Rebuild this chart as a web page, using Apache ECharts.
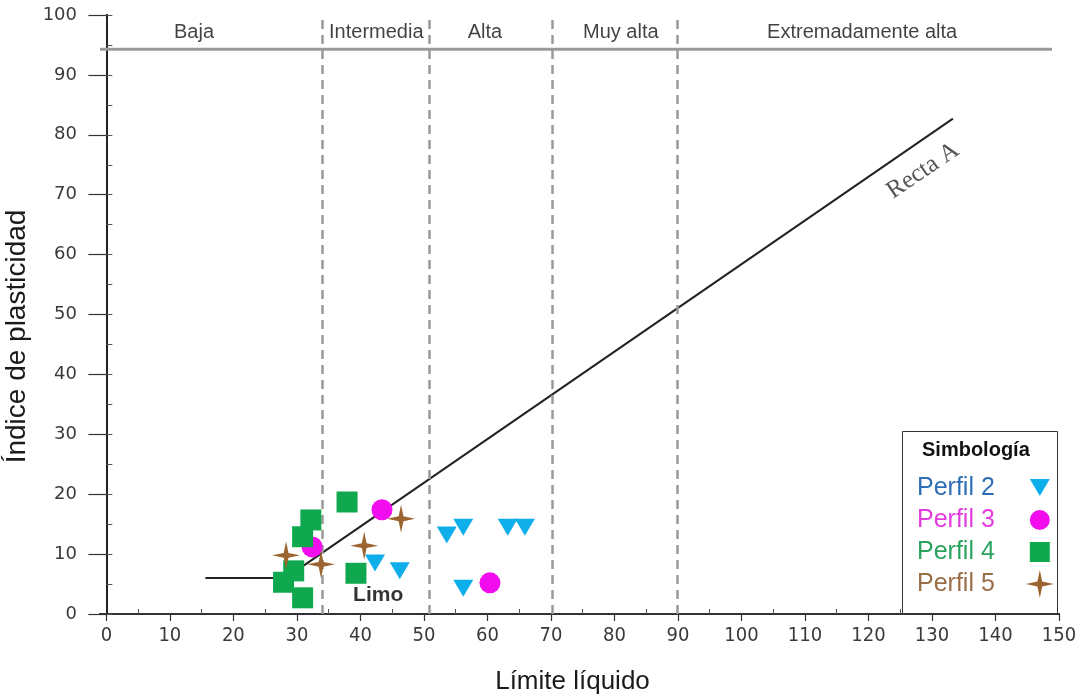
<!DOCTYPE html>
<html>
<head>
<meta charset="utf-8">
<script src="https://cdn.jsdelivr.net/npm/echarts@6/dist/echarts.min.js"></script>
<style>
  html, body { margin: 0; padding: 0; background: #ffffff; }
  #chart { width: 1082px; height: 698px; }
</style>
</head>
<body>
<div id="chart"></div>
<script>
// Límite líquido (LL) e índice de plasticidad (IP) por perfil
const perfil2LL = [42.3, 46.2, 53.6, 56.2, 63.2, 65.9, 56.2];
const perfil2IP = [8.5, 7.2, 13.2, 14.5, 14.5, 14.5, 4.3];

const perfil3LL = [43.4, 32.4, 60.4];
const perfil3IP = [17.4, 11.2, 5.2];

const perfil4LL = [37.9, 32.2, 30.9, 29.5, 27.9, 30.9, 39.3];
const perfil4IP = [18.7, 15.7, 12.9, 7.2, 5.3, 2.7, 6.8];

const perfil5LL = [28.3, 33.8, 40.6, 46.4];
const perfil5IP = [9.8, 8.3, 11.4, 15.9];

// Recta A (tramo horizontal y tramo inclinado)
const rectaALL = [15.6, 28.2, 133.3];
const rectaAIP = [6.0, 6.0, 82.7];

// Franjas de compresibilidad según el límite líquido
const bandNames = ['Baja', 'Intermedia', 'Alta', 'Muy alta', 'Extremadamente alta'];
const bandLabelLL = [13.8, 42.5, 59.6, 81.0, 119.0];
const bandLimits = [34.0, 50.8, 70.2, 89.9];
const bandLabelIP = 97.0;
const bandLineIP = 94.3;
const bandLineLL = [-1, 148.9];

// Textos dentro del área
const limoLabel = { text: 'Limo', ll: 42.8, ip: 3.2 };
const rectaLabel = { text: 'Recta A', ll: 128.6, ip: 74.0 };

// Ejes
const xTicks = [0, 10, 20, 30, 40, 50, 60, 70, 80, 90, 100, 110, 120, 130, 140, 150];
const xMinorTicks = [5, 15, 25, 35, 45, 55, 65, 75, 85, 95, 105, 115, 125, 135, 145];
const yTicks = [0, 10, 20, 30, 40, 50, 60, 70, 80, 90, 100];
const X_MIN = -1, X_MAX = 150, Y_MIN = 0, Y_MAX = 100;

const seriesNames = ['Perfil 2', 'Perfil 3', 'Perfil 4', 'Perfil 5'];
const seriesColors = ['#0EAEEA', '#F20DEE', '#10A84E', '#9C6530'];
const legendTextColors = ['#2F6FB6', '#E23BDE', '#2BA35F', '#9A6E46'];

const zip = (xs, ys) => xs.map((x, i) => [x, ys[i]]);

const triDown = 'path://M0,0 L20,0 L10,17 Z';
const star4 = 'path://M14,0 L16.4,11.6 L28,14 L16.4,16.4 L14,28 L11.6,16.4 L0,14 L11.6,11.6 Z';
// Iconos de la leyenda: el margen invisible (M) fija el tamaño relativo dentro de la caja
const legendIcons = [
  'path://M-4,-5 M24,23 M0,0 L20,0 L10,17 Z',
  'path://M-4,-4 M24,24 M10,0 A10,10 0 1 1 9.99,0 Z',
  'path://M-4,-4 M24,24 M0,0 L20,0 L20,20 L0,20 Z',
  'path://M14,0 L16.4,11.6 L28,14 L16.4,16.4 L14,28 L11.6,16.4 L0,14 L11.6,11.6 Z'
];

const scatterSeries = [
  { name: seriesNames[0], data: zip(perfil2LL, perfil2IP), symbol: triDown, symbolSize: [20, 17] },
  { name: seriesNames[1], data: zip(perfil3LL, perfil3IP), symbol: 'circle', symbolSize: 21 },
  { name: seriesNames[2], data: zip(perfil4LL, perfil4IP), symbol: 'rect', symbolSize: 21 },
  { name: seriesNames[3], data: zip(perfil5LL, perfil5IP), symbol: star4, symbolSize: 28 }
].map((s, i) => Object.assign({
  type: 'scatter',
  xAxisIndex: 0,
  yAxisIndex: 0,
  itemStyle: { color: seriesColors[i], opacity: 1 },
  z: 5,
  emphasis: { disabled: true }
}, s));

const chart = echarts.init(document.getElementById('chart'), null, { renderer: 'canvas' });

const tickLabelX = { fontFamily: 'DejaVu Sans Condensed', fontSize: 20, color: '#3a3a3a' };
const tickLabelY = { fontFamily: 'DejaVu Sans', fontSize: 18, color: '#3a3a3a' };

chart.setOption({
  animation: false,
  backgroundColor: '#ffffff',
  grid: { left: 100, right: 23, top: 15, bottom: 84, containLabel: false, outerBoundsMode: 'none' },
  xAxis: [
    {
      type: 'value', position: 'bottom', min: X_MIN, max: X_MAX,
      name: 'Límite líquido', nameLocation: 'middle', nameGap: 55,
      nameTextStyle: { fontFamily: 'Liberation Sans', fontSize: 26, color: '#1a1a1a', padding: [0, 14, 0, 0] },
      axisLine: { show: true, lineStyle: { color: '#111', width: 2 } },
      axisTick: { show: true, length: 7, customValues: xTicks, lineStyle: { color: '#333', width: 1.2 } },
      axisLabel: Object.assign({ show: true, margin: 12, customValues: xTicks }, tickLabelX),
      splitLine: { show: false }
    },
    {
      type: 'value', position: 'bottom', min: X_MIN, max: X_MAX,
      axisLine: { show: false },
      axisTick: { show: true, inside: true, length: 5, customValues: xMinorTicks, lineStyle: { color: '#555', width: 1 } },
      axisLabel: { show: false },
      splitLine: { show: false }
    },
    {
      type: 'value', position: 'top', min: X_MIN, max: X_MAX,
      axisLine: { show: true, lineStyle: { color: '#333', width: 2 } },
      axisTick: { show: false },
      axisLabel: { show: false },
      splitLine: { show: false }
    }
  ],
  yAxis: [
    {
      type: 'value', position: 'left', min: Y_MIN, max: Y_MAX, interval: 10,
      name: 'Índice de plasticidad', nameLocation: 'middle', nameGap: 62,
      nameTextStyle: { fontFamily: 'Liberation Sans', fontSize: 28, color: '#1a1a1a', padding: [0, 44, 0, 0] },
      axisLine: { show: true, lineStyle: { color: '#111', width: 2 } },
      axisTick: { show: true, length: 18, lineStyle: { color: '#333', width: 1.2 } },
      axisLabel: Object.assign({ show: true, margin: 23, customValues: yTicks }, tickLabelY),
      splitLine: { show: false }
    },
    {
      type: 'value', position: 'left', min: Y_MIN, max: Y_MAX, interval: 5,
      axisLine: { show: false },
      axisTick: { show: true, inside: true, length: 6, lineStyle: { color: '#555', width: 1 } },
      axisLabel: { show: false },
      splitLine: { show: false }
    },
    {
      type: 'value', position: 'right', min: Y_MIN, max: Y_MAX,
      axisLine: { show: true, lineStyle: { color: '#222', width: 2 } },
      axisTick: { show: false },
      axisLabel: { show: false },
      splitLine: { show: false }
    }
  ],
  legend: {
    data: seriesNames.map((n, i) => ({ name: n, icon: legendIcons[i], textStyle: { color: legendTextColors[i] } })),
    orient: 'vertical',
    left: 917,
    top: 474,
    align: 'right',
    itemWidth: 28,
    itemHeight: 28,
    itemGap: 4,
    selectedMode: false,
    padding: 0,
    textStyle: { fontFamily: 'Liberation Sans', fontSize: 25, padding: [0, 26, 0, 0] },
    z: 6
  },
  graphic: [
    {
      type: 'rect', left: 902, top: 431, z: 4,
      shape: { width: 155, height: 182 },
      style: { fill: '#ffffff', stroke: '#333', lineWidth: 1 }
    },
    {
      type: 'text', top: 440, left: 922, z: 5,
      style: { text: 'Simbología', fontFamily: 'Liberation Sans', fontWeight: 'bold', fontSize: 20, fill: '#111' }
    }
  ],
  series: [
    {
      name: 'Recta A',
      type: 'line',
      data: zip(rectaALL, rectaAIP),
      symbol: 'none',
      lineStyle: { color: '#222', width: 2 },
      z: 3,
      silent: true,
      markLine: {
        silent: true,
        symbol: 'none',
        label: { show: false },
        lineStyle: { color: '#9a9a9a', width: 2.5, type: [9, 6] },
        data: bandLimits.map(v => ({ xAxis: v }))
      }
    },
    {
      name: 'franja',
      type: 'line',
      data: bandLineLL.map(x => [x, bandLineIP]),
      symbol: 'none',
      lineStyle: { color: '#9a9a9a', width: 3 },
      z: 2,
      silent: true
    },
    {
      name: 'etiquetas franja',
      type: 'scatter',
      data: bandNames.map((n, i) => ({ value: [bandLabelLL[i], bandLabelIP], name: n })),
      symbolSize: 0,
      silent: true,
      label: {
        show: true, position: 'inside', formatter: p => p.name,
        fontFamily: 'Liberation Sans', fontSize: 20, color: '#111'
      }
    },
    {
      name: 'textos',
      type: 'scatter',
      data: [
        { value: [limoLabel.ll, limoLabel.ip], name: limoLabel.text,
          label: { fontFamily: 'Liberation Sans', fontWeight: 'bold', fontSize: 21, color: '#000' } },
        { value: [rectaLabel.ll, rectaLabel.ip], name: rectaLabel.text,
          label: { fontFamily: 'Liberation Serif', fontSize: 25, color: '#2a2a2a', rotate: 34 } }
      ],
      symbolSize: 0,
      silent: true,
      z: 4,
      label: { show: true, position: 'inside', formatter: p => p.name }
    }
  ].concat(scatterSeries)
});
</script>
</body>
</html>
